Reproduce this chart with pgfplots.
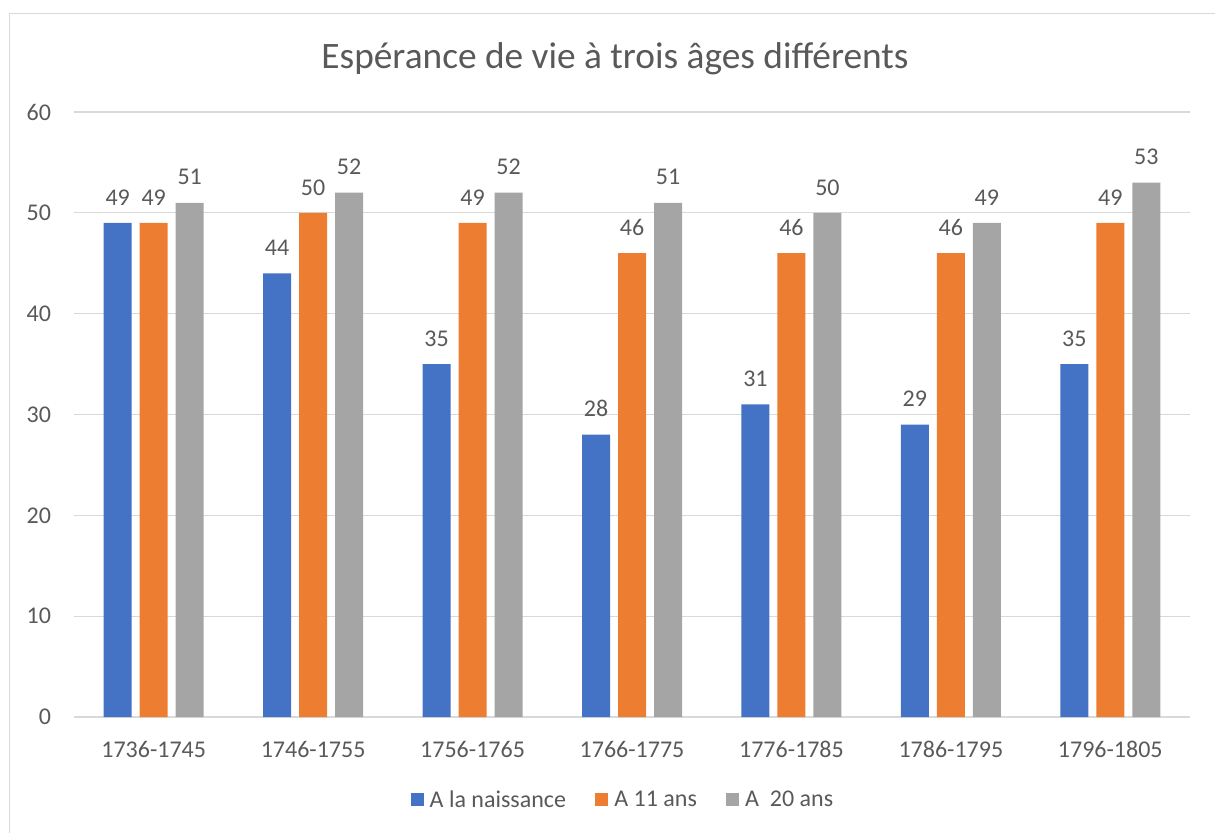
\documentclass[border=0pt]{standalone}
\usepackage{pgfplots}
\pgfplotsset{compat=1.18}
\usepackage{fontspec}
\setmainfont{Carlito}
\definecolor{cblue}{HTML}{4472C4}
\definecolor{corange}{HTML}{ED7D31}
\definecolor{cgray}{HTML}{A5A5A5}
\definecolor{textgray}{HTML}{595959}
\definecolor{gridgray}{HTML}{D9D9D9}
\pgfplotstableread{
x a b c
0 49 49 51
1 44 50 52
2 35 49 52
3 28 46 51
4 31 46 50
5 29 46 49
6 35 49 53
}\datatable
\begin{document}
\begin{tikzpicture}
\path[use as bounding box] (0pt,0pt) rectangle (911.25pt,624.75pt);
\draw[gridgray, line width=1pt] (7.1pt,0pt) -- (7.1pt,614.6pt) -- (911.25pt,614.6pt);
\node[text=textgray, font=\fontsize{28}{33}\selectfont] at (461.25pt,581pt) {Espérance de vie à trois âges différents};
\begin{axis}[
  at={(55.5pt,87pt)}, anchor=south west,
  scale only axis, width=837pt, height=453.75pt,
  xmin=-0.5, xmax=6.5, ymin=0, ymax=60,
  ybar=6pt, bar width=21pt,
  xtick={0,...,6},
  xticklabels={1736-1745,1746-1755,1756-1765,1766-1775,1776-1785,1786-1795,1796-1805},
  ytick={0,10,...,60},
  /pgf/number format/assume math mode=true,
  axis lines*=left,
  x axis line style={draw=gridgray, line width=0.8pt},
  y axis line style={draw=none},
  ymajorgrids, grid style={gridgray, line width=0.8pt},
  major tick length=0pt,
  tick style={draw=none},
  tick label style={font=\fontsize{18}{22}\selectfont, text=textgray},
  xticklabel style={anchor=base, inner sep=0pt, yshift=-30pt},
  yticklabel style={anchor=east, inner sep=0pt, xshift=-17pt},
  nodes near coords,
  every node near coord/.append style={font=\fontsize{18}{22}\selectfont, text=textgray, anchor=south, inner sep=0pt, yshift=13pt},
  legend columns=3,
  legend style={at={(0.491,-0.137)}, anchor=center, draw=none, fill=none,
    font=\fontsize{18}{22}\selectfont, text=textgray,
    nodes={inner sep=0pt},
    /tikz/every odd column/.append style={column sep=4.5pt},
    /tikz/every even column/.append style={column sep=22pt}},
  legend image code/.code={\fill (0pt,-4.875pt) rectangle (9.75pt,4.875pt);},
]
\addplot[fill=cblue, draw=none] table[x=x,y=a] {\datatable};
\addplot[fill=corange, draw=none] table[x=x,y=b] {\datatable};
\addplot[fill=cgray, draw=none] table[x=x,y=c] {\datatable};
\legend{A la naissance, A 11 ans, A~~20 ans}
\end{axis}
\end{tikzpicture}
\end{document}
